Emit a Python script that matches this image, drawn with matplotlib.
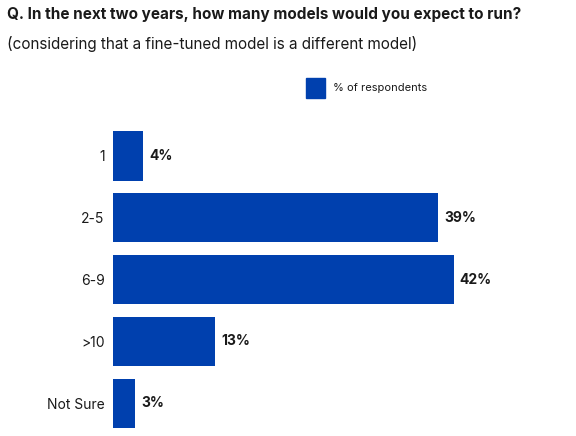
import matplotlib.pyplot as plt
from matplotlib.patches import Rectangle

plt.rcParams['font.family'] = ['Inter', 'DejaVu Sans']

# data
categories = ['1', '2-5', '6-9', '>10', 'Not Sure']
shares = [3.7, 39.9, 41.8, 12.5, 2.7]
value_labels = ['4%', '39%', '42%', '13%', '3%']

bar_color = '#0040ae'
text_color = '#1a1a1a'

fig = plt.figure(figsize=(5.76, 4.36), dpi=100)
W, H = 576, 436

# axes placed to match the reference pixel layout
ax = fig.add_axes([113 / W, (H - 428) / H, (W - 113) / W, (428 - 131) / H])
y = range(len(categories))
ax.barh(y, shares, height=0.8, color=bar_color)
ax.set_ylim(len(categories) - 0.6, -0.4)
ax.set_xlim(0, 463 / 8.15)

for yi, v, lab in zip(y, shares, value_labels):
    ax.text(v + 0.75, yi, lab, va='center', ha='left', fontsize=10,
            fontweight='bold', color=text_color)

ax.set_yticks(list(y))
ax.set_yticklabels(categories, fontsize=10, color=text_color)
ax.tick_params(axis='y', length=0, pad=6)
ax.set_xticks([])
for s in ax.spines.values():
    s.set_visible(False)

# title
fig.text(7 / W, 1 - 15 / H, 'Q. In the next two years, how many models would you expect to run?',
         fontsize=11, fontweight='bold', color=text_color, va='center', ha='left')
fig.text(7 / W, 1 - 44 / H, '(considering that a fine-tuned model is a different model)',
         fontsize=11, color=text_color, va='center', ha='left')

# legend
fig.patches.append(Rectangle((306 / W, 1 - 98 / H), 19 / W, 20 / H,
                             transform=fig.transFigure, color=bar_color, figure=fig))
fig.text(333 / W, 1 - 88 / H, '% of respondents', fontsize=8, color=text_color,
         va='center', ha='left')

fig.savefig('out.png', dpi=100)
